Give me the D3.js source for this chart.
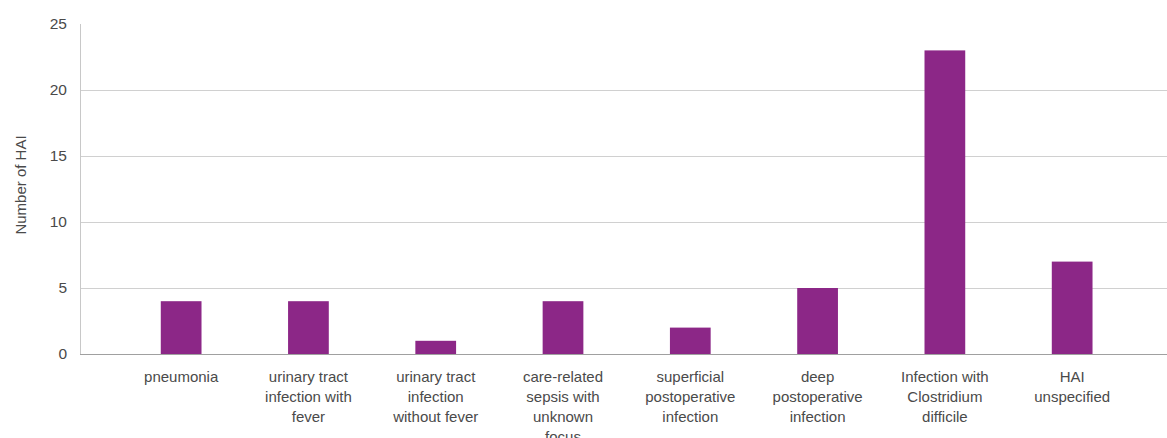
<!DOCTYPE html>
<html>
<head>
<meta charset="utf-8">
<script src="https://cdn.jsdelivr.net/npm/d3@7"></script>
<style>
  body { margin: 0; background: #fff; }
  text { font-family: "Liberation Sans", Arial, sans-serif; fill: #4a4a4a; }
</style>
</head>
<body>
<div id="chart"></div>
<script>
// categories (each label split in lines as in the picture)
var categories = [
  ["pneumonia"],
  ["urinary tract", "infection with", "fever"],
  ["urinary tract", "infection", "without fever"],
  ["care-related", "sepsis with", "unknown", "focus"],
  ["superficial", "postoperative", "infection"],
  ["deep", "postoperative", "infection"],
  ["Infection with", "Clostridium", "difficile"],
  ["HAI", "unspecified"]
];
var values = [4, 4, 1, 4, 2, 5, 23, 7];
var yTicks = [0, 5, 10, 15, 20, 25];

var width = 1167, height = 438;

var svg = d3.select("#chart")
    .append("svg")
    .attr("width", width)
    .attr("height", height);

var x = d3.scaleBand()
    .domain(d3.range(categories.length))
    .range([117.5, 1135.8])
    .paddingInner(0.68)
    .paddingOuter(0.34);

var y = d3.scaleLinear()
    .domain([0, 25])
    .range([354, 24]);

// gridlines (no line at the top)
svg.selectAll(".grid")
    .data(yTicks.filter(function (d) { return d > 0 && d < 25; }))
    .enter().append("line")
    .attr("x1", 80).attr("x2", width)
    .attr("y1", function (d) { return y(d) + 0.5; })
    .attr("y2", function (d) { return y(d) + 0.5; })
    .attr("stroke", "#d0d0d0")
    .attr("stroke-width", 1);

// bars
svg.selectAll(".bar")
    .data(values)
    .enter().append("rect")
    .attr("x", function (d, i) { return x(i); })
    .attr("width", x.bandwidth())
    .attr("y", function (d) { return y(d); })
    .attr("height", function (d) { return y(0) - y(d); })
    .attr("fill", "#8c2787");

// y axis line
svg.append("line")
    .attr("x1", 80.5).attr("x2", 80.5)
    .attr("y1", y(25)).attr("y2", y(0))
    .attr("stroke", "#c8c8c8");

// baseline
svg.append("line")
    .attr("x1", 80).attr("x2", width)
    .attr("y1", y(0) + 0.5).attr("y2", y(0) + 0.5)
    .attr("stroke", "#a0a0a0");

// y tick labels
svg.selectAll(".ytick")
    .data(yTicks)
    .enter().append("text")
    .attr("x", 67)
    .attr("y", function (d) { return y(d); })
    .attr("dy", "0.35em")
    .attr("text-anchor", "end")
    .style("font-size", "15.5px")
    .text(function (d) { return d; });

// x labels
var xl = svg.selectAll(".xlab")
    .data(categories)
    .enter().append("text")
    .attr("text-anchor", "middle")
    .style("font-size", "15px")
    .attr("transform", function (d, i) { return "translate(" + (x(i) + x.bandwidth() / 2) + ",382)"; });

xl.selectAll("tspan")
    .data(function (d) { return d; })
    .enter().append("tspan")
    .attr("x", 0)
    .attr("y", function (d, i) { return i * 20; })
    .text(function (d) { return d; });

// y axis title
svg.append("text")
    .attr("transform", "translate(26,185) rotate(-90)")
    .attr("text-anchor", "middle")
    .style("font-size", "15px")
    .text("Number of HAI");
</script>
</body>
</html>
